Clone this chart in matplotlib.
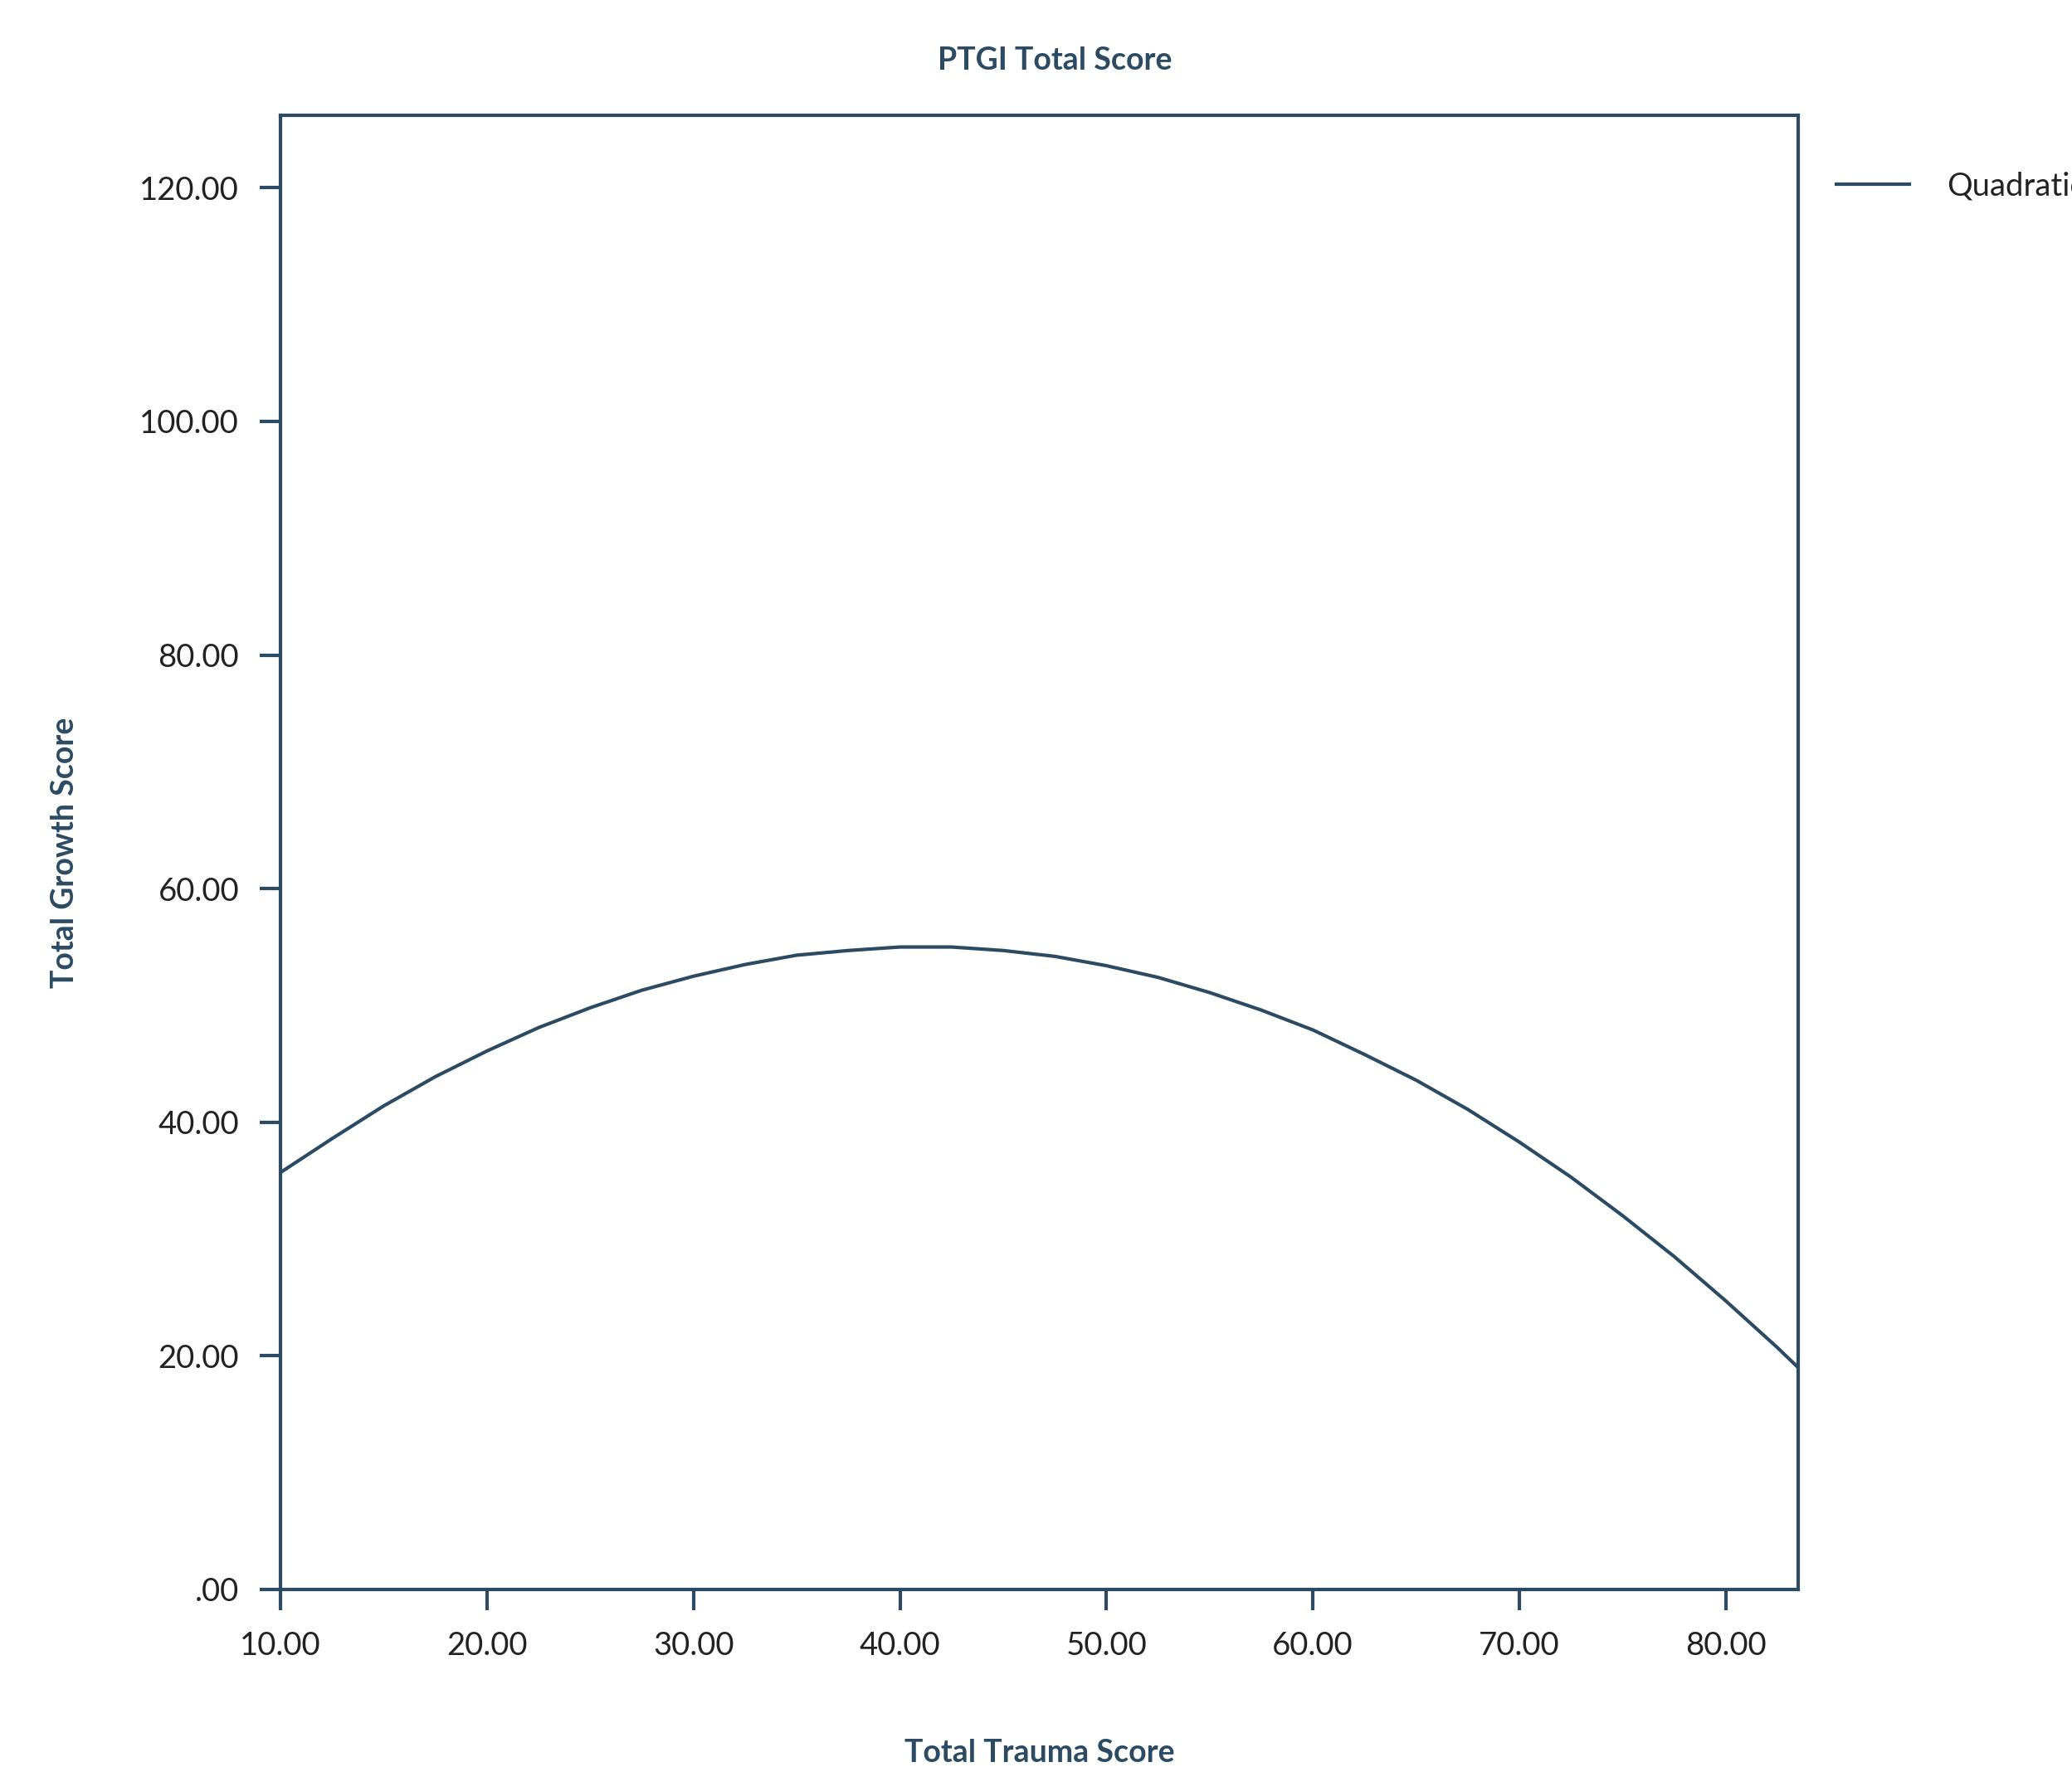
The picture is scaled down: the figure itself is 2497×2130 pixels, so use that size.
import matplotlib
matplotlib.use('Agg')
import matplotlib.pyplot as plt

# Kurva kuadratik: nilai
trauma_score = [10, 12.5, 15, 17.5, 20, 22.5, 25, 27.5, 30, 32.5, 35, 37.5, 40, 41.1,
                42.5, 45, 47.5, 50, 52.5, 55, 57.5, 60, 62.5, 65, 67.5, 70, 72.5,
                75, 77.5, 80, 82.5, 83.5]
growth_score = [35.7, 38.6, 41.4, 43.9, 46.1, 48.1, 49.8, 51.3, 52.5, 53.5, 54.3, 54.7,
                55.0, 55.0, 55.0, 54.7, 54.2, 53.4, 52.4, 51.1, 49.6, 47.9, 45.8, 43.6,
                41.1, 38.3, 35.3, 32.0, 28.5, 24.7, 20.7, 19.0]

x_ticks = [10, 20, 30, 40, 50, 60, 70, 80]
x_labels = ['10.00', '20.00', '30.00', '40.00', '50.00', '60.00', '70.00', '80.00']
y_ticks = [0, 20, 40, 60, 80, 100, 120]
y_labels = ['.00', '20.00', '40.00', '60.00', '80.00', '100.00', '120.00']

line_color = '#2C4B62'
text_color = '#222222'

plt.rcParams['font.family'] = ['Lato', 'DejaVu Sans']

fig = plt.figure(figsize=(24.97, 21.30), dpi=100)
ax = fig.add_axes([0.1354, 0.1005, 0.7324, 0.8342])

ax.plot(trauma_score, growth_score, color=line_color, linewidth=3.0,
        solid_joinstyle='round', label='Quadratic')

ax.set_xlim(10, 83.5)
ax.set_ylim(0, 126.2)
ax.set_xticks(x_ticks)
ax.set_xticklabels(x_labels)
ax.set_yticks(y_ticks)
ax.set_yticklabels(y_labels)

for side in ['left', 'right', 'top', 'bottom']:
    ax.spines[side].set_color(line_color)
    ax.spines[side].set_linewidth(3.0)

ax.tick_params(axis='both', direction='out', length=18, width=3.0, color=line_color,
               labelsize=27.5, labelcolor=text_color, pad=18)

ax.set_title('PTGI Total Score', fontsize=27, fontweight='bold', color=line_color,
             pad=40, x=0.51)
ax.set_xlabel('Total Trauma Score', fontsize=27, fontweight='bold', color=line_color, labelpad=68)
ax.set_ylabel('Total Growth Score', fontsize=27, fontweight='bold', color=line_color, labelpad=53)

ax.legend(loc='upper left', bbox_to_anchor=(1.0, 0.988), frameon=False, fontsize=27.5,
          handlelength=2.3, handletextpad=1.2, labelcolor=text_color, borderaxespad=0.8)

fig.savefig('out.png', dpi=100)
